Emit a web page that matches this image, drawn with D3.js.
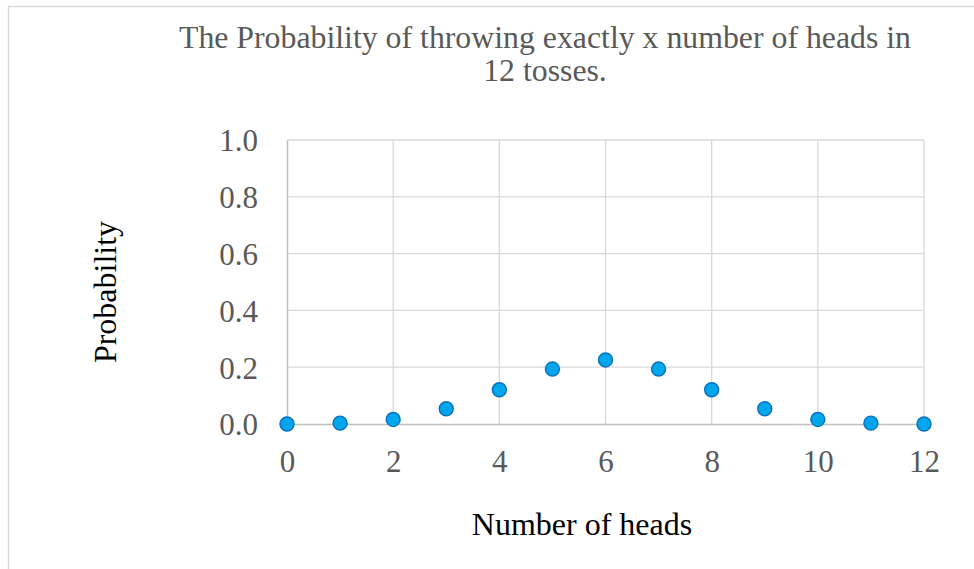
<!DOCTYPE html>
<html>
<head>
<meta charset="utf-8">
<script src="https://cdn.jsdelivr.net/npm/d3@7"></script>
<style>
  html, body { margin: 0; padding: 0; background: #fff; }
  svg { display: block; }
  text { font-family: "Liberation Serif", "Times New Roman", serif; }
</style>
</head>
<body>
<svg id="chart" width="974" height="569"></svg>
<script>
// Binomial distribution of heads in 12 fair coin tosses
const heads = [0, 1, 2, 3, 4, 5, 6, 7, 8, 9, 10, 11, 12];
const probability = [0.000244, 0.00293, 0.0161, 0.0537, 0.1208, 0.1934, 0.2256,
                     0.1934, 0.1208, 0.0537, 0.0161, 0.00293, 0.000244];
const xTicks = [0, 2, 4, 6, 8, 10, 12];
const yTicks = [0, 0.2, 0.4, 0.6, 0.8, 1.0];
const titleLines = ["The Probability of throwing exactly x number of heads in", "12 tosses."];

const svg = d3.select("#chart");

// outer chart frame (open to the right and bottom)
svg.append("path")
  .attr("d", "M8.5,569 V6.5 H974")
  .attr("fill", "none")
  .attr("stroke", "#d9d9d9")
  .attr("stroke-width", 1.5);

const x = d3.scaleLinear().domain([0, 12]).range([287, 924]);
const y = d3.scaleLinear().domain([0, 1]).range([424, 140]);

// gridlines
svg.append("g").selectAll("line.v")
  .data(xTicks.filter(d => d > 0))
  .join("line")
  .attr("x1", d => x(d)).attr("x2", d => x(d))
  .attr("y1", y(0)).attr("y2", y(1))
  .attr("stroke", "#d9d9d9").attr("stroke-width", 1.3);
svg.append("g").selectAll("line.h")
  .data(yTicks.filter(d => d > 0))
  .join("line")
  .attr("x1", x(0)).attr("x2", x(12))
  .attr("y1", d => y(d)).attr("y2", d => y(d))
  .attr("stroke", "#d9d9d9").attr("stroke-width", 1.3);

// axes
const xAxis = svg.append("g")
  .attr("transform", `translate(0,${y(0)})`)
  .call(d3.axisBottom(x).tickValues(xTicks).tickSize(0).tickPadding(37).tickFormat(d3.format("d")));
const yAxis = svg.append("g")
  .attr("transform", `translate(${x(0)},0)`)
  .call(d3.axisLeft(y).tickValues(yTicks).tickSize(0).tickPadding(29).tickFormat(d3.format(".1f")));

[xAxis, yAxis].forEach(g => {
  g.select(".domain").attr("stroke", "#bfbfbf").attr("stroke-width", 1.5);
  g.selectAll("text")
    .attr("font-family", "Liberation Serif, Times New Roman, serif")
    .attr("font-size", 31)
    .attr("fill", "#595959")
    .attr("dy", "0.35em");
});

// data points
svg.append("g").selectAll("circle")
  .data(heads)
  .join("circle")
  .attr("cx", (d) => x(d))
  .attr("cy", (d, i) => y(probability[i]))
  .attr("r", 7)
  .attr("fill", "#00a6ec")
  .attr("stroke", "#0a6fbf")
  .attr("stroke-width", 1.4);

// title
svg.append("g").selectAll("text")
  .data(titleLines)
  .join("text")
  .attr("x", 545)
  .attr("y", (d, i) => 48 + i * 33)
  .attr("text-anchor", "middle")
  .attr("font-size", 31.8)
  .attr("fill", "#595959")
  .text(d => d);

// axis titles
svg.append("text")
  .attr("x", 582)
  .attr("y", 535)
  .attr("text-anchor", "middle")
  .attr("font-size", 32)
  .attr("fill", "#000")
  .text("Number of heads");

svg.append("text")
  .attr("transform", "translate(116,292) rotate(-90)")
  .attr("text-anchor", "middle")
  .attr("font-size", 32)
  .attr("fill", "#000")
  .text("Probability");
</script>
</body>
</html>
